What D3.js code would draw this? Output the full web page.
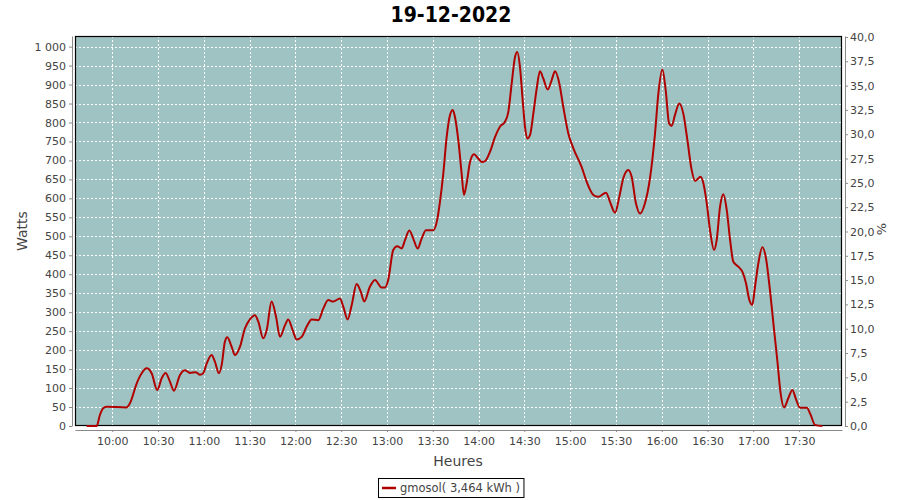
<!DOCTYPE html>
<html>
<head>
<meta charset="utf-8">
<script src="https://cdn.jsdelivr.net/npm/d3@7"></script>
<style>
  body { margin: 0; background: #fff; }
  svg text { font-family: "DejaVu Sans", sans-serif; }
</style>
</head>
<body>
<svg id="chart" width="900" height="500"></svg>
<script>
// ---- Data (minutes since midnight, watts) ----
const title = "19-12-2022";
const seriesName = "gmosol( 3,464 kWh )";
const minutesOfDay = [583.2,589.8,591.9,594.1,596.3,609.4,611.6,616.0,619.3,622.5,625.8,629.5,632.4,635.0,637.8,640.4,644.3,647.6,650.9,654.8,657.5,659.6,661.9,665.1,667.3,669.9,671.7,673.8,675.4,678.2,680.4,683.7,686.9,690.2,693.5,695.7,698.9,701.2,704.4,707.3,709.9,713.2,715.3,718.2,720.8,724.1,727.4,730.7,735.0,738.3,741.5,744.8,749.2,751.4,754.2,756.9,760.1,762.8,765.1,768.8,772.1,776.5,778.7,780.8,784.1,786.7,789.6,791.8,794.6,797.2,800.1,802.7,805.5,810.3,812.6,814.7,816.9,819.1,821.3,823.1,824.5,826.7,828.9,830.4,832.2,834.4,837.0,839.8,842.0,844.2,847.5,850.8,854.0,857.3,859.5,861.7,863.9,865.4,867.1,868.9,870.4,871.9,873.7,875.9,878.1,880.2,882.4,885.3,887.9,890.1,892.9,895.5,898.8,902.1,907.5,910.8,915.2,918.4,923.5,926.1,929.4,932.2,934.8,938.1,940.3,943.1,945.8,949.0,952.3,955.6,957.8,960.4,962.6,964.8,966.5,968.7,971.5,974.1,976.8,979.6,981.8,985.5,987.2,989.5,991.6,994.3,996.0,998.2,1000.4,1002.6,1004.8,1006.9,1010.2,1013.1,1015.2,1017.4,1019.3,1021.1,1023.3,1025.9,1028.3,1030.9,1033.6,1035.7,1037.9,1040.1,1042.9,1045.6,1048.0,1050.6,1055.0,1057.6,1060.4,1065.2];
const watts = [0,0,29,47,51,49,60,112,139,152,139,95,126,140,117,93,134,147,140,142,135,139,165,187,169,139,161,222,234,209,187,209,257,281,292,275,231,253,328,288,235,266,281,253,228,235,262,281,279,310,332,328,336,314,281,319,374,354,328,367,385,365,365,385,464,474,468,490,515,494,468,494,516,516,538,591,666,762,820,833,815,754,666,609,640,696,716,705,696,698,723,762,789,802,828,903,973,986,947,859,789,758,767,824,890,935,916,887,912,935,903,841,771,732,683,644,609,604,615,591,562,604,653,675,657,587,560,587,653,771,877,940,885,798,791,820,850,824,754,675,646,657,641,587,517,464,490,578,611,569,490,433,420,404,376,332,319,367,429,471,442,358,253,174,86,49,73,95,70,48,48,29,3,0];
const xTickLabels = ["10:00","10:30","11:00","11:30","12:00","12:30","13:00","13:30","14:00","14:30","15:00","15:30","16:00","16:30","17:00","17:30"];
const leftTicks = [0,50,100,150,200,250,300,350,400,450,500,550,600,650,700,750,800,850,900,950,1000];
const rightTicks = [0,2.5,5,7.5,10,12.5,15,17.5,20,22.5,25,27.5,30,32.5,35,37.5,40];

// ---- Layout ----
const plot = {left: 75, right: 842, top: 36, bottom: 426};
const svg = d3.select("#chart");
const toDate = m => new Date(2022, 11, 19, 0, 0, Math.round(m * 60));
const parseTick = d3.timeParse("%H:%M");
const tickDates = xTickLabels.map(s => { const t = parseTick(s); return new Date(2022, 11, 19, t.getHours(), t.getMinutes()); });

const x = d3.scaleTime().domain([toDate(575.6), toDate(1078.1)]).range([plot.left, plot.right]);
const yL = d3.scaleLinear().domain([0, 1028]).range([plot.bottom, plot.top]);
const yR = d3.scaleLinear().domain([0, 40.1]).range([plot.bottom, plot.top]);

const fr = d3.formatLocale({decimal: ",", thousands: " ", grouping: [3], currency: ["", ""]});
const fmtL = fr.format(",d");
const fmtR = fr.format(".1f");
const fmtX = d3.timeFormat("%H:%M");

// title
svg.append("text").attr("x", 451).attr("y", 22).attr("text-anchor", "middle")
  .style("font-family", "'DejaVu Sans Condensed', 'DejaVu Sans', sans-serif")
  .style("font-stretch", "condensed")
  .style("font-weight", "bold").style("font-size", "21px").attr("fill", "#000").text(title);

// plot background
svg.append("rect").attr("x", plot.left).attr("y", plot.top)
  .attr("width", plot.right - plot.left).attr("height", plot.bottom - plot.top)
  .attr("fill", "#9fc3c2");

// gridlines
const grid = svg.append("g").attr("stroke", "#fff").attr("stroke-width", 1).attr("stroke-dasharray", "2,2");
grid.selectAll(".v").data(tickDates).join("line")
  .attr("x1", d => Math.round(x(d)) + 0.5).attr("x2", d => Math.round(x(d)) + 0.5)
  .attr("y1", plot.top).attr("y2", plot.bottom);
grid.selectAll(".h").data(leftTicks.slice(1)).join("line")
  .attr("x1", plot.left).attr("x2", plot.right)
  .attr("y1", d => Math.round(yL(d)) + 0.5).attr("y2", d => Math.round(yL(d)) + 0.5);

// plot border
svg.append("rect").attr("x", plot.left + 0.5).attr("y", plot.top + 0.5)
  .attr("width", plot.right - plot.left - 1).attr("height", plot.bottom - plot.top - 1)
  .attr("fill", "none").attr("stroke", "#000").attr("stroke-width", 1.2);

// line (drawn over the border, like the reference)
const line = d3.line().x((d, i) => x(toDate(minutesOfDay[i]))).y(d => yL(d)).curve(d3.curveMonotoneX);
const clipId = "clipPlot";
svg.append("clipPath").attr("id", clipId).append("rect")
  .attr("x", plot.left).attr("y", plot.top - 2).attr("width", plot.right - plot.left).attr("height", plot.bottom - plot.top + 3);
svg.append("path").datum(watts).attr("d", line).attr("fill", "none")
  .attr("stroke", "#b00000").attr("stroke-width", 2).attr("stroke-linejoin", "round")
  .attr("clip-path", `url(#${clipId})`);

// axes
function styleAxis(g) {
  g.select(".domain").attr("stroke", "#888");
  g.selectAll(".tick line").attr("stroke", "#888");
  g.selectAll(".tick text").attr("fill", "#444").style("font-size", "11px").style("font-family", "'DejaVu Sans', sans-serif");
}
const gL = svg.append("g").attr("transform", "translate(72,0)")
  .call(d3.axisLeft(yL).tickValues(leftTicks).tickFormat(fmtL).tickSizeInner(3).tickSizeOuter(0).tickPadding(3));
styleAxis(gL);
const gR = svg.append("g").attr("transform", "translate(845,0)")
  .call(d3.axisRight(yR).tickValues(rightTicks).tickFormat(fmtR).tickSizeInner(3).tickSizeOuter(0).tickPadding(2));
styleAxis(gR);
const gX = svg.append("g").attr("transform", "translate(0,430)")
  .call(d3.axisBottom(x).tickValues(tickDates).tickFormat(fmtX).tickSizeInner(2).tickSizeOuter(0).tickPadding(5));
styleAxis(gX);

// axis titles
svg.append("text").attr("transform", "translate(27,231) rotate(-90)").attr("text-anchor", "middle")
  .style("font-size", "14px").attr("fill", "#444").text("Watts");
svg.append("text").attr("transform", "translate(886,229) rotate(-90)").attr("text-anchor", "middle")
  .style("font-size", "13px").attr("fill", "#444").text("%");
svg.append("text").attr("x", 458).attr("y", 466).attr("text-anchor", "middle")
  .style("font-size", "14px").attr("fill", "#444").text("Heures");

// legend
const lg = svg.append("g");
const lt = lg.append("text").attr("x", 400).attr("y", 492).style("font-size", "11.5px").attr("fill", "#444").text(seriesName);
const bb = lt.node().getBBox();
lg.insert("rect", "text").attr("x", 378.5).attr("y", 478.5).attr("width", bb.x + bb.width + 4 - 378.5).attr("height", 19)
  .attr("fill", "#fff").attr("stroke", "#000");
lg.append("line").attr("x1", 382).attr("x2", 396).attr("y1", 488).attr("y2", 488).attr("stroke", "#b00000").attr("stroke-width", 2.5);
</script>
</body>
</html>
